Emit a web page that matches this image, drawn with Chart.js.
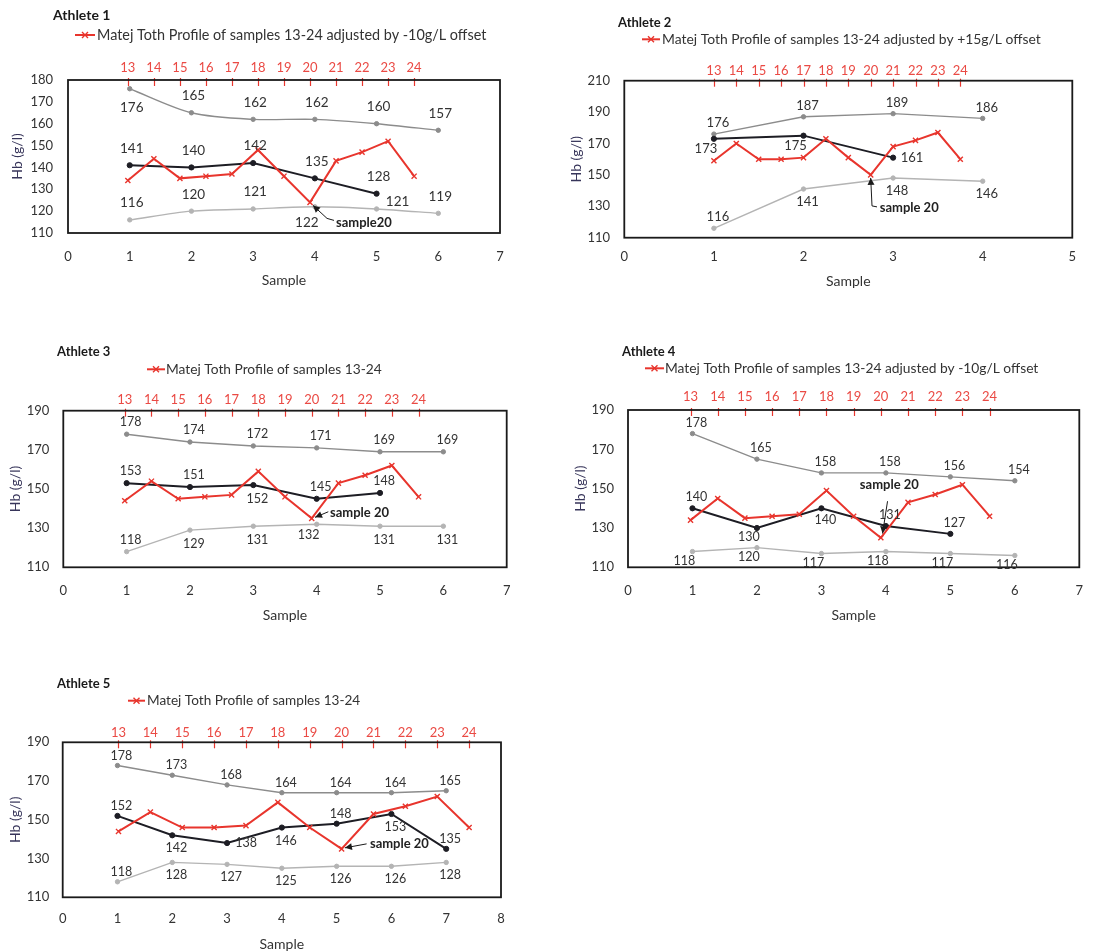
<!DOCTYPE html>
<html>
<head>
<meta charset="utf-8">
<script src="https://cdn.jsdelivr.net/npm/chart.js@4.4.1/dist/chart.umd.min.js"></script>
<style>
  body { margin: 0; background: #fff; width: 1113px; height: 952px; position: relative; overflow: hidden; }
  canvas { position: absolute; }
</style>
</head>
<body>
<canvas id="c1" width="555" height="300" style="left:0;top:0"></canvas>
<canvas id="c2" width="553" height="300" style="left:560px;top:0"></canvas>
<canvas id="c3" width="555" height="300" style="left:0;top:330px"></canvas>
<canvas id="c4" width="553" height="300" style="left:560px;top:330px"></canvas>
<canvas id="c5" width="555" height="292" style="left:0;top:660px"></canvas>
<script>
// ---- data ----
const sampleNo = [1, 2, 3, 4, 5, 6, 7];
const profileNo = [13, 14, 15, 16, 17, 18, 19, 20, 21, 22, 23, 24];

// Athlete 1
const a1Upper = [176, 165, 162, 162, 160, 157];
const a1Lower = [116, 120, 121, 122, 121, 119];
const a1Hb = [141, 140, 142, 135, 128];
const a1Profile = [134, 144, 135, 136, 137, 148, 136, 124, 143, 147, 152, 136];

// Athlete 2
const a2Upper = [176, 187, 189, 186];
const a2Lower = [116, 141, 148, 146];
const a2Hb = [173, 175, 161];
const a2Profile = [159, 170, 160, 160, 161, 173, 161, 150, 168, 172, 177, 160];

// Athlete 3
const a3Upper = [178, 174, 172, 171, 169, 169];
const a3Lower = [118, 129, 131, 132, 131, 131];
const a3Hb = [153, 151, 152, 145, 148];
const a3Profile = [144, 154, 145, 146, 147, 159, 146, 135, 153, 157, 162, 146];

// Athlete 4
const a4Upper = [178, 165, 158, 158, 156, 154];
const a4Lower = [118, 120, 117, 118, 117, 116];
const a4Hb = [140, 130, 140, 131, 127];
const a4Profile = [134, 145, 135, 136, 137, 149, 136, 125, 143, 147, 152, 136];

// Athlete 5
const a5Upper = [178, 173, 168, 164, 164, 164, 165];
const a5Lower = [118, 128, 127, 125, 126, 126, 128];
const a5Hb = [152, 142, 138, 146, 148, 153, 135];
const a5Profile = [144, 154, 146, 146, 147, 159, 146, 135, 153, 157, 162, 146];

const legendNoOffset = 'Matej Toth Profile of samples 13-24';
const legendMinus10 = 'Matej Toth Profile of samples 13-24 adjusted by -10g/L offset';
const legendPlus15 = 'Matej Toth Profile of samples 13-24 adjusted by +15g/L offset';

// ---- styling ----
const RED = '#e8352d';
const RED_TEXT = '#ea4a44';
const UPPER_GREY = '#8c8c8c';
const LOWER_GREY = '#b4b4b4';
const HB_BLACK = '#1d1d24';
const TEXT = '#333333';
const FONT = 'Lato, "Open Sans", sans-serif';
const LH = 13 * 1.2;
const LH_TITLE = 14 * 1.2;

Chart.defaults.font.family = FONT;
Chart.defaults.font.size = 13;
Chart.defaults.color = TEXT;

function pairs(xs, ys) { return ys.map((y, i) => ({ x: xs[i], y })); }

// label placement codes -> pixel offsets from the point
function placeOffset(code, g) {
  switch (code) {
    case 'a': return [g.dx, -g.up];
    case 'b': return [g.dx, g.down];
    case 'bl': return [-8, g.down - 3];
    case 'r': return [19, 0];
    case 'ur': return [21, -7];
    default: return [0, 0];
  }
}

const panelDecor = {
  id: 'panelDecor',
  afterDatasetsDraw(chart, args, o) {
    const ctx = chart.ctx;
    const a = chart.chartArea;
    const x2 = chart.scales.x2;
    ctx.save();

    // short red ticks of the top sample-number axis, pointing into the plot
    ctx.strokeStyle = RED;
    ctx.lineWidth = 1.2;
    x2.ticks.forEach(t => {
      const px = Math.round(x2.getPixelForValue(t.value)) + 0.5;
      ctx.beginPath();
      ctx.moveTo(px, a.top - 2);
      ctx.lineTo(px, a.top + 6);
      ctx.stroke();
    });

    // plot frame
    ctx.strokeStyle = '#1a1a1a';
    ctx.lineWidth = 1.8;
    ctx.strokeRect(a.left, a.top, a.right - a.left, a.bottom - a.top);

    // value labels
    ctx.font = o.labelSize + 'px ' + FONT;
    ctx.fillStyle = TEXT;
    ctx.textAlign = 'center';
    ctx.textBaseline = 'middle';
    chart.data.datasets.forEach((ds, i) => {
      if (!ds.labelPlacement) return;
      const meta = chart.getDatasetMeta(i);
      meta.data.forEach((pt, j) => {
        const [dx, dy] = placeOffset(ds.labelPlacement[j], o.gap);
        ctx.fillText(String(ds.data[j].y), pt.x + dx, pt.y + dy);
      });
    });

    // "sample 20" call-out, anchored on the profile's sample 20
    const redIdx = chart.data.datasets.findIndex(d => d.xAxisID === 'x2');
    const redDs = chart.data.datasets[redIdx];
    const k = redDs.data.findIndex(p => p.x === 20);
    const p20 = chart.getDatasetMeta(redIdx).data[k];
    const n = o.note;
    const tipX = p20.x + n.tip[0], tipY = p20.y + n.tip[1];
    ctx.strokeStyle = '#1a1a1a';
    ctx.fillStyle = '#1a1a1a';
    ctx.lineWidth = 1;
    ctx.beginPath();
    ctx.moveTo(tipX, tipY);
    n.path.forEach(q => ctx.lineTo(p20.x + q[0], p20.y + q[1]));
    ctx.stroke();
    const q0 = n.path[0];
    const ang = Math.atan2(tipY - (p20.y + q0[1]), tipX - (p20.x + q0[0]));
    ctx.beginPath();
    ctx.moveTo(tipX, tipY);
    ctx.lineTo(tipX - 7 * Math.cos(ang) + 3.5 * Math.sin(ang), tipY - 7 * Math.sin(ang) - 3.5 * Math.cos(ang));
    ctx.lineTo(tipX - 7 * Math.cos(ang) - 3.5 * Math.sin(ang), tipY - 7 * Math.sin(ang) + 3.5 * Math.cos(ang));
    ctx.closePath();
    ctx.fill();
    ctx.font = 'bold 13px ' + FONT;
    ctx.textAlign = 'left';
    ctx.fillStyle = '#222';
    ctx.fillText(n.text, p20.x + n.textAt[0], p20.y + n.textAt[1]);

    // panel title
    ctx.font = 'bold ' + o.titleSize + 'px ' + FONT;
    ctx.fillStyle = '#1a1a1a';
    ctx.fillText(o.title, o.titleAt[0], o.titleAt[1]);

    // legend entry for the profile series
    const [lx0, lx1, ly, tx] = o.legendAt;
    ctx.strokeStyle = RED;
    ctx.lineWidth = 2;
    ctx.beginPath();
    ctx.moveTo(lx0, ly);
    ctx.lineTo(lx1, ly);
    ctx.stroke();
    const mx = (lx0 + lx1) / 2;
    ctx.lineWidth = 1.4;
    ctx.beginPath();
    ctx.moveTo(mx - 3, ly - 3); ctx.lineTo(mx + 3, ly + 3);
    ctx.moveTo(mx - 3, ly + 3); ctx.lineTo(mx + 3, ly - 3);
    ctx.stroke();
    ctx.font = o.legendSize + 'px ' + FONT;
    ctx.fillStyle = TEXT;
    ctx.fillText(o.legend, tx, ly);

    ctx.restore();
  }
};

function buildPanel(id, s) {
  const [l, t, r, b] = s.area;
  const H = s.H, W = s.W;
  const datasets = [
    {
      label: s.legend, data: pairs(profileNo, s.profile), xAxisID: 'x2', yAxisID: 'y',
      borderColor: RED, backgroundColor: RED, borderWidth: 2,
      pointStyle: 'crossRot', pointRadius: 3.6, pointBorderWidth: 1.4, pointBorderColor: RED
    },
    {
      label: 'Hb', data: pairs(sampleNo, s.hb), xAxisID: 'x', yAxisID: 'y',
      borderColor: HB_BLACK, backgroundColor: HB_BLACK, borderWidth: 2,
      pointRadius: 2.6, pointBorderWidth: 1, labelPlacement: s.place.hb
    },
    {
      label: 'Upper limit', data: pairs(sampleNo, s.upper), xAxisID: 'x', yAxisID: 'y',
      borderColor: UPPER_GREY, backgroundColor: UPPER_GREY, borderWidth: 1.4,
      pointRadius: 2.2, pointBorderWidth: 1, tension: s.tension, labelPlacement: s.place.upper
    },
    {
      label: 'Lower limit', data: pairs(sampleNo, s.lower), xAxisID: 'x', yAxisID: 'y',
      borderColor: LOWER_GREY, backgroundColor: LOWER_GREY, borderWidth: 1.4,
      pointRadius: 2.2, pointBorderWidth: 1, tension: s.tension, labelPlacement: s.place.lower
    }
  ];
  return new Chart(document.getElementById(id), {
    type: 'line',
    data: { datasets },
    plugins: [panelDecor],
    options: {
      responsive: false,
      animation: false,
      events: [],
      layout: { padding: { left: 0, top: 0, right: W - r, bottom: 0 } },
      plugins: {
        legend: { display: false },
        tooltip: { enabled: false },
        panelDecor: {
          title: s.title, titleAt: s.titleAt, titleSize: s.titleSize,
          legend: s.legend, legendAt: s.legendAt, legendSize: s.legendSize,
          gap: s.gap, note: s.note, labelSize: s.labelSize
        }
      },
      scales: {
        x: {
          type: 'linear', position: 'bottom', min: 0, max: s.xMax,
          grid: { display: false, drawTicks: false, tickLength: 0 },
          border: { display: false },
          ticks: { stepSize: 1, padding: s.xTickY - b - LH / 2, color: TEXT, font: { size: 13 } },
          title: { display: true, text: 'Sample', color: TEXT, font: { size: 14 },
                   padding: { top: 0, bottom: H - s.xTitleY - LH_TITLE / 2 } },
          afterFit: sc => { sc.height = H - b; }
        },
        x2: {
          type: 'linear', position: 'top', min: s.x2Range[0], max: s.x2Range[1],
          grid: { display: false, drawTicks: false, tickLength: 0 },
          border: { display: false },
          afterBuildTicks: sc => { sc.ticks = profileNo.map(v => ({ value: v })); },
          ticks: { padding: t - s.x2TickY - LH / 2, color: RED_TEXT, font: { size: 13 } },
          afterFit: sc => { sc.height = t; }
        },
        y: {
          type: 'linear', position: 'left', min: s.yRange[0], max: s.yRange[1],
          grid: { display: false, drawTicks: false, tickLength: 0 },
          border: { display: false },
          ticks: { stepSize: s.yStep, padding: l - s.yTickRight, color: TEXT, font: { size: 13 } },
          title: { display: true, text: 'Hb (g/l)', color: '#37355a', font: { size: 14 },
                   padding: { top: s.yTitleX - LH_TITLE / 2, bottom: 0 } },
          afterFit: sc => { sc.width = l; }
        }
      }
    }
  });
}

buildPanel('c1', {
  W: 555, H: 300, area: [68, 80, 500, 233],
  yTickRight: 53, yTitleX: 17, xTickY: 256.7, xTitleY: 280.7, x2TickY: 67.7,
  xMax: 7, x2Range: [10.7, 27.3], yRange: [110, 180], yStep: 10, tension: 0.3,
  upper: a1Upper, lower: a1Lower, hb: a1Hb, profile: a1Profile,
  place: {
    upper: ['b', 'a', 'a', 'a', 'a', 'a'],
    lower: ['a', 'a', 'a', 'bl', 'ur', 'a'],
    hb: ['a', 'a', 'a', 'a', 'a']
  },
  gap: { up: 17, down: 19, dx: 2 }, labelSize: 13.5,
  title: 'Athlete 1', titleAt: [53, 15], titleSize: 14,
  legend: legendMinus10, legendAt: [75, 95, 35, 97], legendSize: 14.4,
  note: { text: 'sample20', tip: [3, 3], path: [[17, 16], [24, 18]], textAt: [26, 20.7] }
});

buildPanel('c2', {
  W: 553, H: 300, area: [64.3, 80.7, 512.3, 237.7],
  yTickRight: 50, yTitleX: 16.7, xTickY: 257.3, xTitleY: 281.7, x2TickY: 70.7,
  xMax: 5, x2Range: [9, 29], yRange: [110, 210], yStep: 20, tension: 0,
  upper: a2Upper, lower: a2Lower, hb: a2Hb, profile: a2Profile,
  place: {
    upper: ['a', 'a', 'a', 'a'],
    lower: ['a', 'b', 'b', 'b'],
    hb: ['bl', 'bl', 'r']
  },
  gap: { up: 11, down: 13, dx: 4 }, labelSize: 13,
  title: 'Athlete 2', titleAt: [58, 23.3], titleSize: 13,
  legend: legendPlus15, legendAt: [82, 100, 39.3, 102], legendSize: 13.9,
  note: { text: 'sample 20', tip: [0, 3], path: [[1.3, 31], [6.3, 32]], textAt: [9, 32.7] }
});

buildPanel('c3', {
  W: 555, H: 300, area: [63.3, 80.7, 506.7, 237.3],
  yTickRight: 49.3, yTitleX: 15, xTickY: 260.7, xTitleY: 285.7, x2TickY: 70,
  xMax: 7, x2Range: [10.7, 27.3], yRange: [110, 190], yStep: 20, tension: 0,
  upper: a3Upper, lower: a3Lower, hb: a3Hb, profile: a3Profile,
  place: {
    upper: ['a', 'a', 'a', 'a', 'a', 'a'],
    lower: ['a', 'b', 'b', 'bl', 'b', 'b'],
    hb: ['a', 'a', 'b', 'a', 'a']
  },
  gap: { up: 12, down: 14, dx: 4 }, labelSize: 12.5,
  title: 'Athlete 3', titleAt: [57, 22.3], titleSize: 13,
  legend: legendNoOffset, legendAt: [147, 165, 39.3, 166], legendSize: 13.75,
  note: { text: 'sample 20', tip: [3.3, -1], path: [[16.6, -6.6]], textAt: [18.3, -5.6] }
});

buildPanel('c4', {
  W: 553, H: 300, area: [68, 80, 519.3, 237.3],
  yTickRight: 54, yTitleX: 20, xTickY: 260.7, xTitleY: 285.7, x2TickY: 67.3,
  xMax: 7, x2Range: [10.7, 27.3], yRange: [110, 190], yStep: 20, tension: 0,
  upper: a4Upper, lower: a4Lower, hb: a4Hb, profile: a4Profile,
  place: {
    upper: ['a', 'a', 'a', 'a', 'a', 'a'],
    lower: ['bl', 'bl', 'bl', 'bl', 'bl', 'bl'],
    hb: ['a', 'bl', 'b', 'a', 'a']
  },
  gap: { up: 11, down: 12, dx: 4 }, labelSize: 12.5,
  title: 'Athlete 4', titleAt: [62, 21.7], titleSize: 13,
  legend: legendMinus10, legendAt: [85, 104, 38.3, 105], legendSize: 13.8,
  note: { text: 'sample 20', tip: [1.7, -4.3], path: [[6.7, -36.6]], textAt: [-21, -52.6] }
});

buildPanel('c5', {
  W: 555, H: 292, area: [62.7, 82.3, 501, 237.3],
  yTickRight: 49.3, yTitleX: 15, xTickY: 259.3, xTitleY: 284, x2TickY: 72.7,
  xMax: 8, x2Range: [11.25, 25], yRange: [110, 190], yStep: 20, tension: 0,
  upper: a5Upper, lower: a5Lower, hb: a5Hb, profile: a5Profile,
  place: {
    upper: ['a', 'a', 'a', 'a', 'a', 'a', 'a'],
    lower: ['a', 'b', 'b', 'b', 'b', 'b', 'b'],
    hb: ['a', 'b', 'r', 'b', 'a', 'b', 'a']
  },
  gap: { up: 10, down: 13, dx: 4 }, labelSize: 12.5,
  title: 'Athlete 5', titleAt: [57, 24.3], titleSize: 13,
  legend: legendNoOffset, legendAt: [128, 145, 40.7, 147], legendSize: 13.6,
  note: { text: 'sample 20', tip: [3.3, -1], path: [[25, -5]], textAt: [28.3, -5] }
});
</script>
</body>
</html>
